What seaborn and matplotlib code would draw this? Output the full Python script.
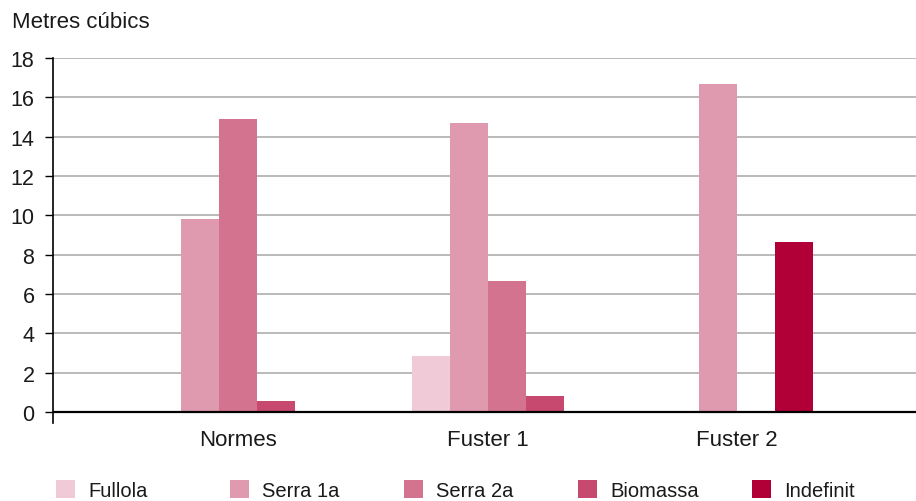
import pandas as pd
import matplotlib.pyplot as plt
from matplotlib.patches import Patch
import seaborn as sns
import seaborn.objects as so

# Chart data: cubic metres per site and destination
groups = ["Normes", "Fuster 1", "Fuster 2"]
series = ["Fullola", "Serra 1a", "Serra 2a", "Biomassa", "Indefinit"]
fullola = [None, 2.85, 0.0]
serra_1a = [9.8, 14.7, 16.7]
serra_2a = [14.9, 6.65, 0.0]
biomassa = [0.55, 0.8, None]
indefinit = [None, None, 8.65]
colors = ["#f0cad6", "#e09aaf", "#d4738f", "#c8496f", "#b10038"]
y_ticks = [0, 2, 4, 6, 8, 10, 12, 14, 16, 18]

# long table, missing values get no bar slot at all
values = dict(zip(series, [fullola, serra_1a, serra_2a, biomassa, indefinit]))
rows = []
for s, vals in values.items():
    for g, v in zip(groups, vals):
        if v is not None:
            rows.append({"group": g, "series": s, "value": v})
df = pd.DataFrame(rows)

font = ["Liberation Sans", "DejaVu Sans"]
text_color = "#1a1a1a"
plt.rcParams["font.family"] = font

fig = plt.figure(figsize=(9.16, 5.02), dpi=100)
ax = fig.add_axes([0.058, 0.155, 0.942, 0.7275])

theme = {**sns.axes_style("white"), "font.family": font, "text.color": text_color}
(
    so.Plot(df, x="group", y="value", color="series")
    .add(so.Bar(width=0.76, alpha=1, edgewidth=0), so.Dodge(empty="drop"), legend=False)
    .scale(x=so.Nominal(order=groups),
           color=so.Nominal(dict(zip(series, colors)), order=series))
    .theme(theme)
    .on(ax)
    .plot()
)

# axes styling
ax.set_xlim(-0.742, 2.717)
ax.set_ylim(-0.56, 18)
ax.set_xticks(range(len(groups)), labels=groups)
ax.set_yticks(y_ticks, labels=[str(t) for t in y_ticks])
ax.set_xlabel("")
ax.set_ylabel("")
ax.set_facecolor("white")
for side in ["top", "right", "bottom"]:
    ax.spines[side].set_visible(False)
ax.spines["left"].set_color("black")
ax.spines["left"].set_linewidth(1.2)
ax.grid(False)
ax.yaxis.grid(True, color="#b4b4b4", lw=1.3)
ax.set_axisbelow(True)
ax.axhline(0, color="black", lw=1.6, zorder=3)
ax.tick_params(axis="y", left=True, length=6, width=1, color="black", direction="out",
               pad=7.5, labelsize=15.5, labelcolor=text_color)
ax.tick_params(axis="x", bottom=False, length=0, pad=4, labelsize=16, labelcolor=text_color)
for lab in ax.get_xticklabels() + ax.get_yticklabels():
    lab.set_fontfamily(font)

fig.text(12 / 916, 1 - 28 / 502, "Metres cúbics", fontsize=16, color=text_color,
         ha="left", va="baseline")

# legend: one entry every fixed step along the bottom
legend_x0, legend_step = 56 / 916, 174 / 916
for i, (s, c) in enumerate(zip(series, colors)):
    fig.legend(handles=[Patch(facecolor=c, edgecolor="none")], labels=[s],
               loc="center left", bbox_to_anchor=(legend_x0 + i * legend_step, 0.022),
               frameon=False, fontsize=14.5, labelcolor=text_color,
               handlelength=0.95, handleheight=0.95, handletextpad=0.65,
               borderpad=0, borderaxespad=0)

fig.savefig("out.png", dpi=100)
